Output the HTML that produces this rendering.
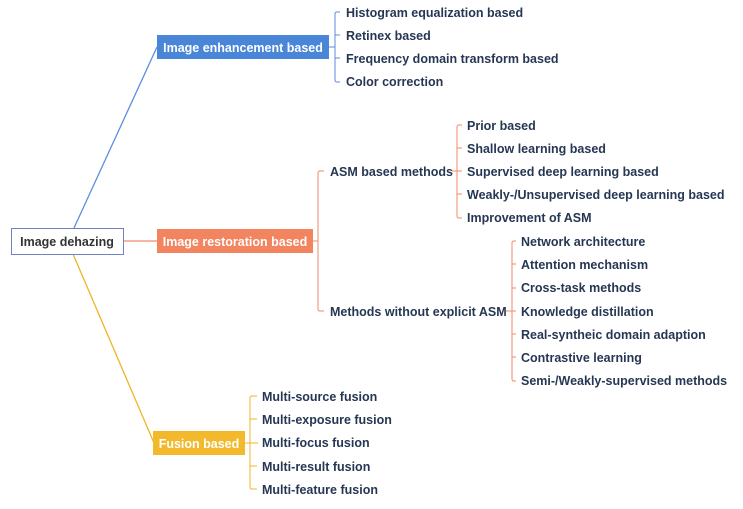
<!DOCTYPE html>
<html><head><style>
body{margin:0;background:#fff;}
svg{display:block;font-family:"Liberation Sans",Arial,sans-serif;font-weight:bold;}
.t{font-size:12.5px;fill:#263753;}
.w{font-size:12.5px;fill:#fff;}
</style></head><body>
<svg width="743" height="509" viewBox="0 0 743 509">
<!-- main connectors -->
<line x1="74" y1="228" x2="157" y2="47" stroke="#5b8ee0" stroke-width="1.3"/>
<line x1="123" y1="241" x2="157" y2="241" stroke="#f2896a" stroke-width="1.3"/>
<line x1="73" y1="254" x2="154" y2="443" stroke="#f0b429" stroke-width="1.3"/>
<!-- root -->
<rect x="11.5" y="228.5" width="112" height="26" fill="#fff" stroke="#6f82c4" stroke-width="1"/>
<text x="67" y="246" class="t" text-anchor="middle" style="fill:#333">Image dehazing</text>
<!-- blue -->
<rect x="157" y="35" width="172" height="24" fill="#4a86d8"/>
<text x="243" y="52" class="w" text-anchor="middle">Image enhancement based</text>
<g fill="none" stroke="#5b8ee0" stroke-width="1">
<line x1="329" y1="47" x2="335" y2="47"/>
<path d="M340 12 H337 Q335 12 335 14 V80 Q335 82 337 82 H340"/>
<line x1="335" y1="35" x2="340" y2="35"/><line x1="335" y1="58" x2="340" y2="58"/>
</g>
<text x="346" y="17" class="t">Histogram equalization based</text>
<text x="346" y="40" class="t">Retinex based</text>
<text x="346" y="63" class="t">Frequency domain transform based</text>
<text x="346" y="86" class="t">Color correction</text>
<!-- orange -->
<rect x="157" y="229" width="156" height="24" fill="#f2845f"/>
<text x="235" y="246" class="w" text-anchor="middle">Image restoration based</text>
<g fill="none" stroke="#f2896a" stroke-width="1">
<line x1="313" y1="241" x2="318" y2="241"/>
<path d="M324 171 H320 Q318 171 318 173 V309 Q318 311 320 311 H324"/>
<line x1="452" y1="171" x2="462" y2="171"/>
<path d="M462 125 H459 Q457 125 457 127 V216 Q457 218 459 218 H462"/>
<line x1="457" y1="148" x2="462" y2="148"/><line x1="457" y1="194" x2="462" y2="194"/>
<line x1="506" y1="311" x2="516" y2="311"/>
<path d="M516 241 H514 Q512 241 512 243 V379 Q512 381 514 381 H516"/>
<line x1="512" y1="264" x2="516" y2="264"/><line x1="512" y1="288" x2="516" y2="288"/>
<line x1="512" y1="334" x2="516" y2="334"/><line x1="512" y1="357" x2="516" y2="357"/>
</g>
<text x="330" y="176" class="t">ASM based methods</text>
<text x="330" y="316" class="t">Methods without explicit ASM</text>
<text x="467" y="130" class="t">Prior based</text>
<text x="467" y="153" class="t">Shallow learning based</text>
<text x="467" y="176" class="t">Supervised deep learning based</text>
<text x="467" y="199" class="t">Weakly-/Unsupervised deep learning based</text>
<text x="467" y="222" class="t">Improvement of ASM</text>
<text x="521" y="246" class="t">Network architecture</text>
<text x="521" y="269" class="t">Attention mechanism</text>
<text x="521" y="292" class="t">Cross-task methods</text>
<text x="521" y="316" class="t">Knowledge distillation</text>
<text x="521" y="339" class="t">Real-syntheic domain adaption</text>
<text x="521" y="362" class="t">Contrastive learning</text>
<text x="521" y="385" class="t">Semi-/Weakly-supervised  methods</text>
<!-- yellow -->
<rect x="153" y="431" width="92" height="24" fill="#f2b92c"/>
<text x="199" y="448" class="w" text-anchor="middle">Fusion based</text>
<g fill="none" stroke="#f0b429" stroke-width="1">
<line x1="245" y1="443" x2="258" y2="443"/>
<path d="M257 396 H252 Q250 396 250 398 V487 Q250 489 252 489 H257"/>
<line x1="250" y1="419" x2="257" y2="419"/><line x1="250" y1="466" x2="257" y2="466"/>
</g>
<text x="262" y="401" class="t">Multi-source fusion</text>
<text x="262" y="424" class="t">Multi-exposure fusion</text>
<text x="262" y="447" class="t">Multi-focus fusion</text>
<text x="262" y="471" class="t">Multi-result fusion</text>
<text x="262" y="494" class="t">Multi-feature fusion</text>
</svg>
</body></html>
